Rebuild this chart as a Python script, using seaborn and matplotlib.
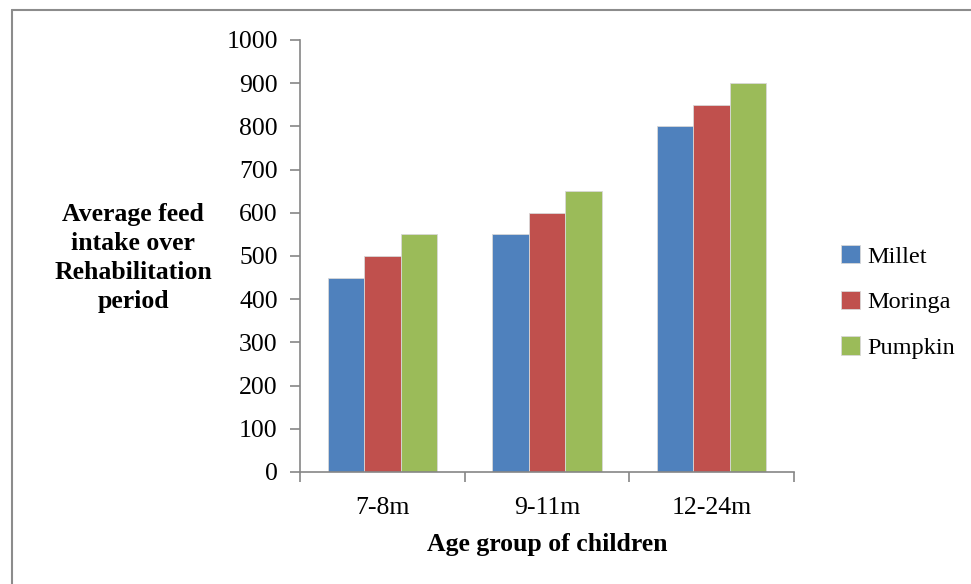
import pandas as pd
import numpy as np
import matplotlib.pyplot as plt
import seaborn as sns
from matplotlib.lines import Line2D

# data
age_groups = ['7-8m', '9-11m', '12-24m']
millet = [450, 550, 800]
moringa = [500, 600, 850]
pumpkin = [550, 650, 900]
series_names = ['Millet', 'Moringa', 'Pumpkin']
colors = ['#4F81BD', '#C0504D', '#9BBB59']

df = pd.DataFrame({
    'age': age_groups * 3,
    'value': millet + moringa + pumpkin,
    'feed': [s for s in series_names for _ in age_groups],
})

sns.set_style('white')
plt.rcParams['font.family'] = ['Liberation Serif', 'DejaVu Serif']
plt.rcParams['text.color'] = 'black'
plt.rcParams['axes.labelcolor'] = 'black'

fig = plt.figure(figsize=(9.71, 5.84), dpi=100)
ax = fig.add_axes([300 / 971, 1 - 472 / 584, 494 / 971, 432 / 584])

sns.barplot(data=df, x='age', y='value', hue='feed', order=age_groups,
            hue_order=series_names, palette=colors, width=0.665, gap=0,
            saturation=1, linewidth=0.6, edgecolor='#d8d8d8', ax=ax, legend=True)

ax.set_xlim(-0.5, 2.5)
ax.set_ylim(0, 1000)
ax.set_yticks(range(0, 1001, 100))
ax.tick_params(axis='y', labelsize=18.5, length=7, width=1.2, color='#868686',
               labelcolor='black', direction='out', left=True, pad=9)
ax.set_xticks(range(3))
ax.set_xticklabels(age_groups)
ax.tick_params(axis='x', which='major', labelsize=18.5, length=0, pad=18,
               labelcolor='black')
ax.set_xticks([-0.5, 0.5, 1.5, 2.5], minor=True)
ax.tick_params(axis='x', which='minor', length=7, width=1.2, color='#868686',
               direction='out', bottom=True)

for side in ['top', 'right']:
    ax.spines[side].set_visible(False)
for side in ['left', 'bottom']:
    ax.spines[side].set_color('#868686')
    ax.spines[side].set_linewidth(1.2)

ax.set_ylabel('')
ax.set_xlabel('Age group of children', fontsize=18.5, fontweight='bold',
              labelpad=10, color='black')

fig.text(133 / 971, 1 - 258 / 584,
         'Average feed\nintake over\nRehabilitation\nperiod',
         ha='center', va='center', fontsize=18.5, fontweight='bold',
         linespacing=1.35, color='black')

leg = ax.legend(loc='center left', bbox_to_anchor=(831 / 971, 1 - 302 / 584),
                bbox_transform=fig.transFigure, frameon=False, fontsize=17.5,
                handlelength=0.8, handleheight=0.8, handletextpad=0.3,
                labelspacing=0.95, borderaxespad=0)
for t in leg.get_texts():
    t.set_color('black')

# outer chart border
fig.add_artist(Line2D([12 / 971, 1.01], [1 - 10 / 584, 1 - 10 / 584],
                      transform=fig.transFigure, color='#8c8c8c', lw=1.5))
fig.add_artist(Line2D([12 / 971, 12 / 971], [1 - 10 / 584, -0.01],
                      transform=fig.transFigure, color='#8c8c8c', lw=1.5))

plt.savefig('out.png', dpi=100, facecolor='white')
plt.close()
